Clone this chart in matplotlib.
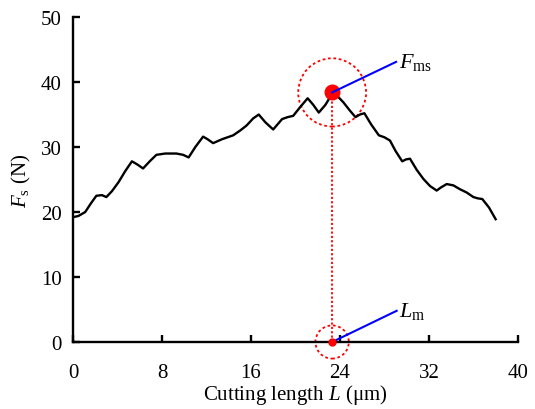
import matplotlib
matplotlib.use("Agg")
import matplotlib.pyplot as plt
from matplotlib.patches import Ellipse

# Datos
L = [0.0, 0.5, 1.1, 1.6, 2.1, 2.6, 3.0, 3.5, 4.1, 4.7, 5.3, 5.8, 6.3, 6.9, 7.5,
     8.3, 9.3, 9.9, 10.4, 11.0, 11.7, 12.1, 12.6, 13.4, 14.4, 15.0, 15.6,
     16.2, 16.7, 17.3, 18.0, 18.4, 18.8, 19.3, 19.8, 20.5, 21.1, 21.6, 22.1,
     22.7, 23.3, 23.8, 24.3, 24.9, 25.4, 25.8, 26.2, 26.8, 27.5, 28.0, 28.5,
     29.0, 29.6, 29.95, 30.3, 30.9, 31.5, 32.1, 32.7, 33.1, 33.6, 34.2, 34.8,
     35.4, 36.0, 36.4, 36.8, 37.4, 38.0]
Fs = [19.2, 19.4, 20.0, 21.3, 22.5, 22.6, 22.3, 23.2, 24.6, 26.3, 27.8, 27.3,
      26.7, 27.8, 28.8, 29.0, 29.0, 28.8, 28.4, 30.0, 31.6, 31.2, 30.6, 31.2,
      31.8, 32.5, 33.3, 34.4, 35.0, 33.8, 32.7, 33.5, 34.3, 34.6, 34.8, 36.3,
      37.5, 36.5, 35.3, 36.5, 38.2, 37.8, 36.9, 35.6, 34.6, 35.0, 35.2, 33.5,
      31.8, 31.5, 31.0, 29.4, 27.8, 28.1, 28.2, 26.5, 25.1, 24.0, 23.3, 23.8,
      24.3, 24.1, 23.5, 23.0, 22.3, 22.1, 22.0, 20.7, 18.9]

L_m = 23.3
F_ms = 38.4
xticks = [0, 8, 16, 24, 32, 40]
yticks = [0, 10, 20, 30, 40, 50]

plt.rcParams['font.family'] = ['Liberation Serif', 'DejaVu Serif']
plt.rcParams['mathtext.fontset'] = 'custom'
plt.rcParams['mathtext.rm'] = 'Liberation Serif'
plt.rcParams['mathtext.it'] = 'Liberation Serif:italic'

fig = plt.figure(figsize=(5.35, 4.10), dpi=100)
ax = fig.add_axes([0.1364, 0.1634, 0.8316, 0.7926])

ax.plot(L, Fs, color='black', lw=1.7, solid_joinstyle='round')

# Linea vertical punteada desde el maximo
ax.plot([L_m, L_m], [0, F_ms], color='red', ls=(0, (1.2, 1.2)), lw=1.3)

# Circulos punteados
ax.add_patch(Ellipse((L_m, F_ms), 6.1, 10.5, fill=False, ec='red',
                     ls=(0, (1.5, 1.5)), lw=1.3))
ax.add_patch(Ellipse((L_m, 0), 3.0, 5.1, fill=False, ec='red',
                     ls=(0, (1.5, 1.5)), lw=1.3, clip_on=False))

# Puntos rojos
ax.plot([L_m], [F_ms], 'o', color='red', ms=10.5)
ax.plot([L_m], [0], 'o', color='red', ms=5, clip_on=False, zorder=5)

# Lineas azules y etiquetas
ax.plot([L_m, 29.05], [F_ms, 43.1], color='blue', lw=1.5)
ax.plot([L_m, 29.1], [0, 4.8], color='blue', lw=1.5)
ax.text(29.3, 43.1, r'$F_{\rm ms}$', fontsize=16, va='center', ha='left')
ax.text(29.3, 4.8, r'$L_{\rm m}$', fontsize=16, va='center', ha='left')

ax.set_xlim(0, 40)
ax.set_ylim(0, 50)
ax.set_xticks(xticks)
ax.set_yticks(yticks)
ax.spines['top'].set_visible(False)
ax.spines['right'].set_visible(False)
ax.spines['left'].set_linewidth(1.7)
ax.spines['bottom'].set_linewidth(1.7)
ax.tick_params(direction='in', length=5, width=1.7, labelsize=15)
ax.tick_params(axis='x', pad=15)
ax.tick_params(axis='y', pad=8)

ax.set_xlabel(r'Cutting length $L$ ($\mathrm{\mu}$m)', fontsize=15, labelpad=0)
ax.set_ylabel(r'$F_{\rm s}$ (N)', fontsize=15, labelpad=6)

plt.savefig('out.png', dpi=100)
